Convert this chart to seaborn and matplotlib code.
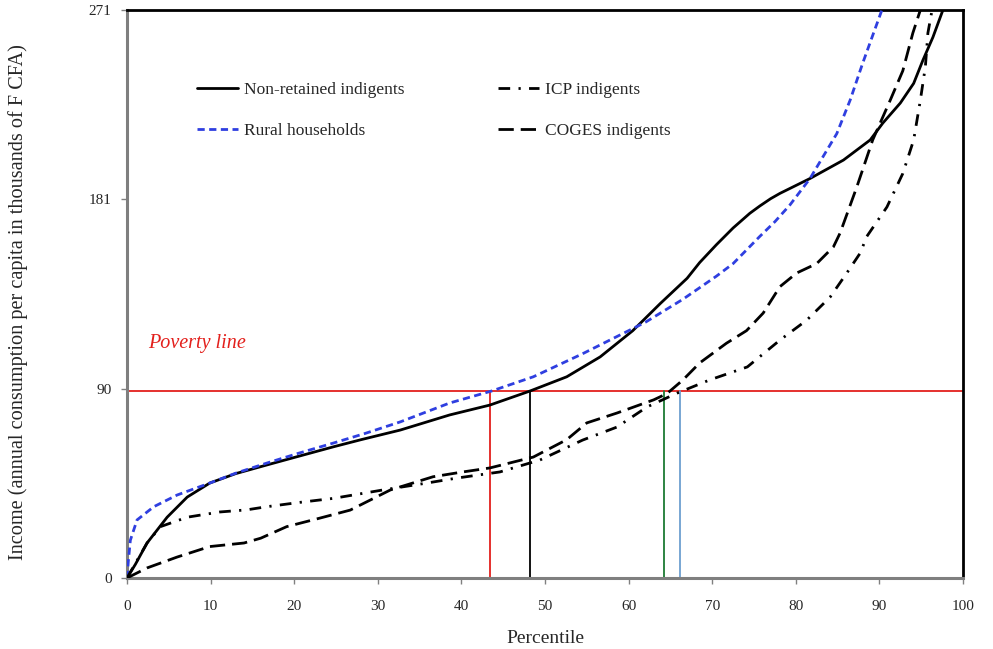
import matplotlib
matplotlib.use("Agg")
import matplotlib.pyplot as plt
import seaborn as sns
import pandas as pd
import numpy as np

# ---------------- data ----------------
nonret_p = [0, 1, 2.4, 4.8, 7.2, 9.9, 13, 16.7, 20, 24.7, 28, 32.7, 38.6, 43.4, 48.2,
            52.6, 56.6, 60.5, 63.8, 67, 68.5, 70.5, 72.5, 74.5, 75.7, 77, 78.1, 81.7, 85.7,
            88.9, 90.4, 92.5, 94.1, 95.2, 96.4, 97.6]
nonret_v = [0, 6.5, 16.7, 29, 38.6, 45.3, 49.8, 53.9, 57.5, 62.6, 66, 70.6, 77.8, 82.5, 89.2,
            96, 105.5, 118, 131, 143, 150.5, 159, 167, 174, 177.5, 181, 183.5, 190.6, 199.4,
            209, 217, 226.6, 236, 247, 258, 271]

rural_p = [0, 0.16, 0.4, 1.2, 3.2, 6, 9.9, 13, 16.7, 20.5, 24.7, 28.5, 32.7, 38.6,
           43.6, 48.6, 54.5, 58, 62, 66.5, 68.5, 70.5, 72.5, 75.7, 77.5, 79.3, 81.7, 84.9,
           86.5, 88, 89.3, 90.3]
rural_v = [0, 8, 18, 27.7, 34, 39.6, 45.3, 50, 54.8, 59.5, 64.4, 69, 74.5, 83.5,
           89.2, 96, 107, 114, 122, 133, 138.5, 144, 150, 163, 170, 178, 190.6, 212,
           228, 245.6, 260, 271]

icp_p = [0, 2.4, 4, 7.2, 11.1, 14.3, 16.7, 20.5, 24.7, 30.6, 35.4, 39.5, 44.6, 49.4, 54.5,
         58.6, 62.2, 65.8, 69.7, 74.2, 78.1, 81.3, 84.1, 86.1, 87.7, 88.5, 90.9, 92.8, 94.1,
         94.9, 95.5, 95.8, 96.3]
icp_v = [0, 16.7, 24.5, 29, 31.5, 32.5, 34, 36, 38, 42, 45, 47.7, 50.6, 56.3, 65.8,
         72, 81.6, 88.2, 94.5, 100.7, 113.5, 123, 134, 145.5, 155, 163, 177, 193, 209,
         228, 244, 260, 271]

coges_p = [0, 2.4, 6, 9.9, 14, 16, 19.1, 23, 26.7, 31.5, 36.6, 40, 43.4, 48.6, 52.6,
           55, 58.6, 63, 64.6, 66.5, 68.5, 71.7, 74.1, 76.1, 78.1, 80.1, 82.5, 84.5, 85.3,
           87.3, 89.2, 91.3, 92.8, 94, 94.9]
coges_v = [0, 4.8, 10, 15, 16.7, 19, 24.5, 28.5, 32.4, 42, 48.3, 50.5, 52.5, 57.7, 66,
           74, 78.7, 85, 88, 94.5, 102.6, 112, 118, 126.4, 139, 145.5, 150, 158, 164.6,
           186.6, 209, 228, 242, 260, 271]

poverty_line = 89
cutoffs = [43.4, 48.2, 64.2, 66.1]          # rural, non-retained, COGES, ICP
y_ticks = [0, 90.33, 180.67, 271]
y_tick_labels = ["0", "90", "181", "271"]
x_ticks = list(range(0, 101, 10))

# ---------------- plot ----------------
sns.set_theme(style="white")
plt.rcParams["font.family"] = ["Liberation Serif", "DejaVu Serif"]

fig = plt.figure(figsize=(9.93, 6.49), dpi=100)
ax = fig.add_axes([127 / 993, 71 / 649, 836 / 993, 568 / 649])

red = "#e3201c"

# poverty line and cut-off verticals
ax.axhline(poverty_line, color=red, lw=1.3, zorder=1)
vcols = [red, "black", "#1e7b34", "#6d9fd0"]
for c, col in zip(cutoffs, vcols):
    ax.plot([c, c], [0, poverty_line], color=col, lw=1.3, zorder=1)

series = [
    ("Non-retained indigents", nonret_p, nonret_v, "black", "-"),
    ("Rural households", rural_p, rural_v, "#2f3fe0", (0, (2.6, 1.6))),
    ("ICP indigents", icp_p, icp_v, "black", (0, (4.2, 3.0, 0.8, 3.0))),
    ("COGES indigents", coges_p, coges_v, "black", (0, (5.5, 2.5))),
]
for name, p, v, col, ls in series:
    df = pd.DataFrame({"Percentile": p, "Income": v})
    sns.lineplot(data=df, x="Percentile", y="Income", ax=ax, color=col,
                 linestyle=ls, lw=2.0, sort=False, estimator=None, label=name, zorder=3)

ax.set_xlim(0, 100)
ax.set_ylim(0, 271)
ax.set_xticks(x_ticks)
ax.set_xticklabels([str(t) for t in x_ticks], fontsize=11)
ax.set_yticks(y_ticks)
ax.set_yticklabels(y_tick_labels, fontsize=11)
ax.tick_params(axis="both", which="both", direction="out", length=4, width=1,
               color="#808080", pad=12, bottom=True, left=True)
ax.tick_params(axis="y", pad=7)

ax.set_xlabel("Percentile", fontsize=14, labelpad=12)
ax.set_ylabel("Income (annual consumption per capita in thousands of F CFA)",
              fontsize=14.6)
ax.yaxis.set_label_coords(-0.118, 0.486)

for s in ["left", "bottom"]:
    ax.spines[s].set_color("#7f7f7f")
    ax.spines[s].set_linewidth(2.2)
for s in ["top", "right"]:
    ax.spines[s].set_color("black")
    ax.spines[s].set_linewidth(2.0)
    ax.spines[s].set_visible(True)

ax.text(2.5, 112, "Poverty line", color=red, fontsize=14.5, style="italic",
        ha="left", va="center")

leg = ax.legend(ncol=2, loc="upper left", bbox_to_anchor=(0.075, 0.885), frameon=False,
                fontsize=12.5, handlelength=2.4, handletextpad=0.3, labelspacing=1.42,
                columnspacing=5.4, borderaxespad=0)

ax.grid(False)
fig.savefig("out.png", dpi=100, facecolor="white")
